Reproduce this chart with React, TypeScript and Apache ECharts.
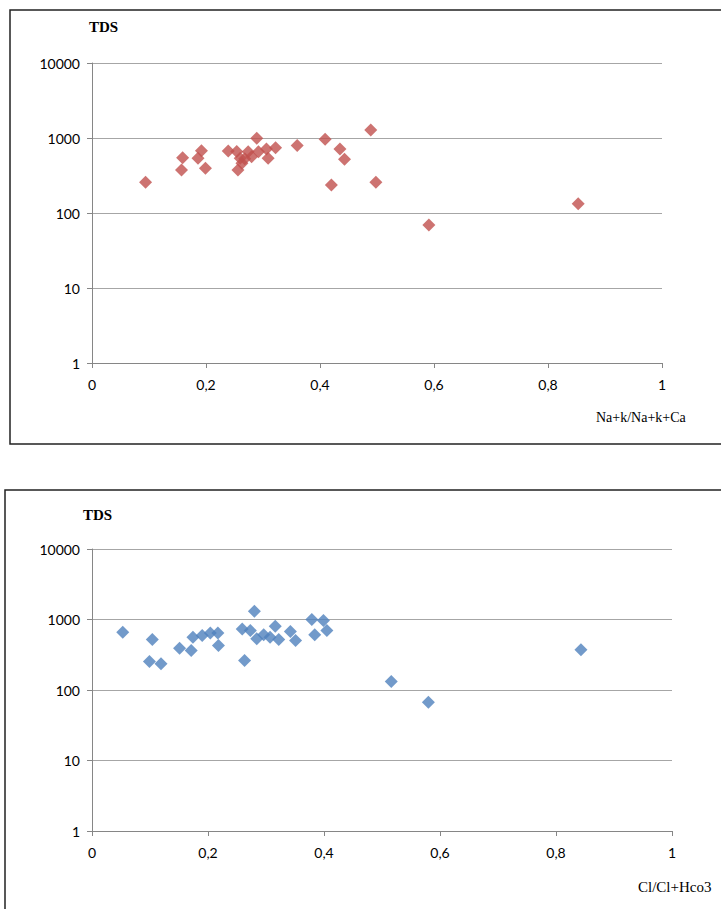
import React, { useEffect, useRef } from "react";
import * as echarts from "echarts";

// Top chart: Na+k/Na+k+Ca vs TDS
const topX = [0.094, 0.159, 0.157, 0.192, 0.186, 0.199, 0.239, 0.254, 0.26, 0.256, 0.263, 0.268, 0.274, 0.28, 0.289, 0.292, 0.306, 0.309, 0.322, 0.36, 0.409, 0.435, 0.443, 0.42, 0.489, 0.498, 0.591, 0.853];
const topY = [257, 546, 374, 677, 536, 395, 671, 660, 536, 374, 460, 530, 656, 563, 991, 656, 713, 536, 742, 795, 961, 713, 520, 236, 1279, 257, 69, 133];

// Bottom chart: Cl/Cl+Hco3 vs TDS
const botX = [0.053, 0.104, 0.099, 0.119, 0.151, 0.171, 0.174, 0.19, 0.204, 0.217, 0.218, 0.259, 0.273, 0.28, 0.284, 0.296, 0.307, 0.316, 0.322, 0.342, 0.351, 0.379, 0.399, 0.384, 0.405, 0.263, 0.516, 0.58, 0.843];
const botY = [659, 520, 254, 235, 392, 363, 560, 592, 646, 646, 427, 736, 697, 1306, 532, 606, 560, 801, 520, 674, 503, 997, 965, 606, 697, 262, 132, 67, 371];

const xTicks = [0, 0.2, 0.4, 0.6, 0.8, 1];
const yTicks = [1, 10, 100, 1000, 10000];

const SERIF = "'Liberation Serif', 'DejaVu Serif', serif";
const SANS = "Lato, 'Liberation Sans', sans-serif";

function fmtX(v: number) {
  if (v === 0) return "0";
  if (Math.abs(v - 1) < 1e-9) return "1";
  return v.toFixed(1).replace(".", ",");
}

export default function App() {
  const ref = useRef<HTMLDivElement>(null);
  useEffect(() => {
    if (!ref.current) return;
    const chart = echarts.init(ref.current, null, { renderer: "svg" });
    const axisColor = "#868686";
    const mkX = (gi: number) => ({
      type: "value",
      gridIndex: gi,
      min: xTicks[0],
      max: xTicks[xTicks.length - 1],
      interval: 0.2,
      axisLine: { show: true, lineStyle: { color: axisColor, width: 1 } },
      axisTick: { show: true, length: 5, lineStyle: { color: axisColor } },
      splitLine: { show: false },
      axisLabel: {
        formatter: (v: number) => fmtX(v),
        color: "#000",
        fontFamily: SANS,
        fontSize: 14,
        margin: 14,
      },
    });
    const mkY = (gi: number) => ({
      type: "log",
      logBase: 10,
      gridIndex: gi,
      min: yTicks[0],
      max: yTicks[yTicks.length - 1],
      axisLine: { show: true, onZero: false, lineStyle: { color: axisColor, width: 1 } },
      axisTick: { show: true, length: 5, lineStyle: { color: axisColor } },
      splitLine: { show: true, lineStyle: { color: "#a6a6a6", width: 1.2 } },
      axisLabel: {
        formatter: (v: number) => String(Math.round(v)),
        color: "#000",
        fontFamily: SANS,
        fontSize: 14,
        margin: 12,
      },
    });
    chart.setOption({
      animation: false,
      backgroundColor: "#fff",
      grid: [
        { left: 92, right: 59, top: 63, height: 300 },
        { left: 92, right: 49, top: 549, height: 282 },
      ],
      xAxis: [mkX(0), mkX(1)],
      yAxis: [mkY(0), mkY(1)],
      series: [
        {
          type: "scatter",
          xAxisIndex: 0,
          yAxisIndex: 0,
          symbol: "diamond",
          symbolSize: 13,
          itemStyle: { color: "#C0504D" },
          data: topX.map((x, i) => [x, topY[i]]),
        },
        {
          type: "scatter",
          xAxisIndex: 1,
          yAxisIndex: 1,
          symbol: "diamond",
          symbolSize: 13,
          itemStyle: { color: "#4F81BD" },
          data: botX.map((x, i) => [x, botY[i]]),
        },
      ],
      graphic: [
        {
          type: "rect",
          shape: { x: 10, y: 10, width: 720, height: 434 },
          style: { fill: "none", stroke: "#222", lineWidth: 1.5 },
          silent: true,
        },
        {
          type: "rect",
          shape: { x: 5, y: 490, width: 725, height: 430 },
          style: { fill: "none", stroke: "#222", lineWidth: 1.5 },
          silent: true,
        },
        {
          type: "text",
          left: 89,
          top: 19,
          style: { text: "TDS", fontFamily: SERIF, fontSize: 15, fontWeight: "bold", fill: "#000" },
        },
        {
          type: "text",
          left: 83,
          top: 507,
          style: { text: "TDS", fontFamily: SERIF, fontSize: 15, fontWeight: "bold", fill: "#000" },
        },
        {
          type: "text",
          left: 596,
          top: 410,
          style: { text: "Na+k/Na+k+Ca", fontFamily: SERIF, fontSize: 14, fill: "#000" },
        },
        {
          type: "text",
          left: 638,
          top: 879,
          style: { text: "Cl/Cl+Hco3", fontFamily: SERIF, fontSize: 15, fill: "#000" },
        },
      ],
    });
    return () => chart.dispose();
  }, []);
  return (
    <div
      ref={ref}
      style={{ position: "absolute", left: 0, top: 0, width: 721, height: 909 }}
    />
  );
}
